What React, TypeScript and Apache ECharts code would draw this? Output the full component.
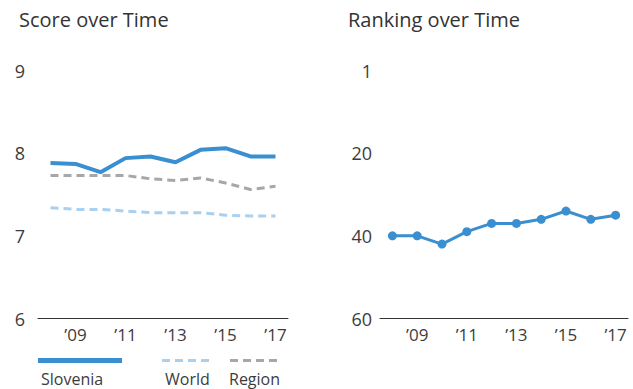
import React, { useEffect, useRef } from "react";
import * as echarts from "echarts";

const years = ["2008", "2009", "2010", "2011", "2012", "2013", "2014", "2015", "2016", "2017"];
const sloveniaScore = [7.88, 7.87, 7.77, 7.94, 7.96, 7.89, 8.04, 8.06, 7.96, 7.96];
const worldScore = [7.34, 7.32, 7.32, 7.3, 7.28, 7.28, 7.28, 7.25, 7.24, 7.24];
const regionScore = [7.73, 7.73, 7.73, 7.73, 7.69, 7.67, 7.7, 7.64, 7.56, 7.6];
const sloveniaRank = [40, 40, 42, 39, 37, 37, 36, 34, 36, 35];
const legendNames = ["Slovenia", "World", "Region"];
const titles = ["Score over Time", "Ranking over Time"];

const FONT = "'Open Sans', sans-serif";
const BLUE = "#3a8fd0";
const LIGHT = "#a9d0ee";
const GRAY = "#a7a7a9";
const TXT = "#3c3c3c";

export default function App() {
  const ref = useRef<HTMLDivElement>(null);
  useEffect(() => {
    if (!ref.current) return;
    const chart = echarts.init(ref.current, null, { renderer: "svg" });
    const xLabel = (v: string) => "\u2019" + v.slice(2);
    const xAxisBase = (gridIndex: number) => ({
      type: "category",
      gridIndex,
      data: years,
      boundaryGap: true,
      position: "bottom",
      axisTick: { show: false },
      axisLine: { onZero: false, lineStyle: { color: "#333", width: 1 } },
      axisLabel: {
        interval: (i: number) => i % 2 === 1,
        formatter: xLabel,
        color: TXT,
        fontFamily: FONT,
        fontSize: 17,
        margin: 7,
      },
      splitLine: { show: false },
    });
    const titleStyle = { fontFamily: FONT, fontSize: 20, fontWeight: "normal", color: "#333" };
    chart.setOption({
      animation: false,
      textStyle: { fontFamily: FONT },
      title: [
        { text: titles[0], left: 14, top: 4, textStyle: titleStyle },
        { text: titles[1], left: 343, top: 4, textStyle: titleStyle },
      ],
      grid: [
        { left: 38, width: 250, top: 70.5, height: 248 },
        { left: 380, width: 248, top: 70.5, height: 248 },
      ],
      xAxis: [xAxisBase(0), xAxisBase(1)],
      yAxis: [
        {
          type: "value",
          gridIndex: 0,
          min: 6,
          max: 9,
          interval: 1,
          axisLine: { show: false },
          axisTick: { show: false },
          splitLine: { show: false },
          axisLabel: { color: TXT, fontFamily: FONT, fontSize: 18, margin: 13 },
        },
        {
          type: "value",
          gridIndex: 1,
          inverse: true,
          min: 0,
          max: 60,
          interval: 20,
          axisLine: { show: false },
          axisTick: { show: false },
          splitLine: { show: false },
          axisLabel: {
            color: TXT,
            fontFamily: FONT,
            fontSize: 18,
            margin: 8,
            formatter: (v: number) => (v === 0 ? "1" : String(v)),
          },
        },
      ],
      series: [
        {
          name: legendNames[2],
          type: "line",
          xAxisIndex: 0,
          yAxisIndex: 0,
          data: regionScore,
          symbol: "none",
          lineStyle: { color: GRAY, width: 3, type: [8, 5] },
        },
        {
          name: legendNames[1],
          type: "line",
          xAxisIndex: 0,
          yAxisIndex: 0,
          data: worldScore,
          symbol: "none",
          lineStyle: { color: LIGHT, width: 3, type: [8, 5] },
        },
        {
          name: legendNames[0],
          type: "line",
          xAxisIndex: 0,
          yAxisIndex: 0,
          data: sloveniaScore,
          symbol: "none",
          lineStyle: { color: BLUE, width: 4 },
        },
        {
          name: "Rank",
          type: "line",
          xAxisIndex: 1,
          yAxisIndex: 1,
          data: sloveniaRank,
          symbol: "circle",
          symbolSize: 9,
          itemStyle: { color: BLUE },
          lineStyle: { color: BLUE, width: 3 },
        },
      ],
      graphic: [
        { type: "line", shape: { x1: 38, y1: 360.5, x2: 122, y2: 360.5 }, style: { stroke: BLUE, lineWidth: 5 } },
        { type: "line", shape: { x1: 162, y1: 360.5, x2: 212, y2: 360.5 }, style: { stroke: LIGHT, lineWidth: 3, lineDash: [8, 5] } },
        { type: "line", shape: { x1: 230, y1: 360.5, x2: 280, y2: 360.5 }, style: { stroke: GRAY, lineWidth: 3, lineDash: [8, 5] } },
        { type: "text", x: 41, y: 378.5, style: { text: legendNames[0], fill: TXT, font: `16px ${FONT}`, textVerticalAlign: "middle" } },
        { type: "text", x: 165, y: 378.5, style: { text: legendNames[1], fill: TXT, font: `16px ${FONT}`, textVerticalAlign: "middle" } },
        { type: "text", x: 229, y: 378.5, style: { text: legendNames[2], fill: TXT, font: `16px ${FONT}`, textVerticalAlign: "middle" } },
      ],
    });
    return () => chart.dispose();
  }, []);
  return (
    <div
      ref={ref}
      style={{ position: "fixed", left: 0, top: 0, width: 633, height: 389, background: "#fff" }}
    />
  );
}
